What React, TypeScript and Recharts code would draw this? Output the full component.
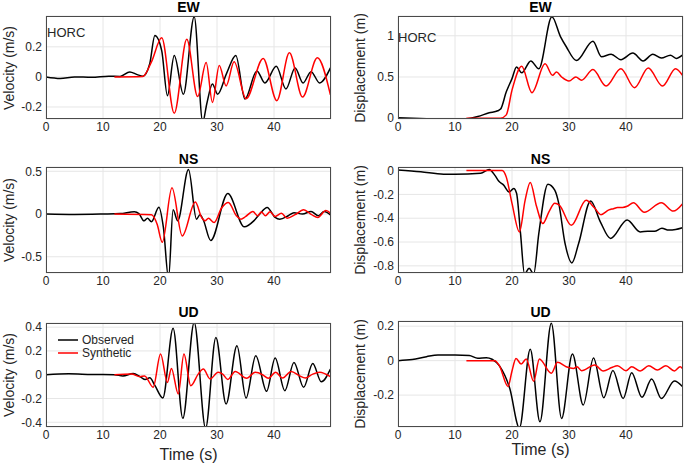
import React from "react";
import { LineChart, Line, XAxis, YAxis, CartesianGrid, Legend } from "recharts";

type Pt = [number, number];

const timeTicks = [0, 10, 20, 30, 40];

const ewVelTicks = [-0.2, 0, 0.2];
const ewDispTicks = [0, 0.5, 1];
const nsVelTicks = [-0.5, 0, 0.5];
const nsDispTicks = [-0.8, -0.6, -0.4, -0.2, 0];
const udVelTicks = [-0.4, -0.2, 0, 0.2, 0.4];
const udDispTicks = [-0.2, 0, 0.2];

// EW velocity (m/s)
const ewVelObs: Pt[] = [
  [0, 0], [2.5, -0.01], [5, 0], [8, -0.003], [11, 0.005], [13, 0.003], [14.7, 0.033], [16, 0.015],
  [17, 0.005], [18.2, 0.087], [19.1, 0.275], [20.3, 0.175], [21.3, -0.125], [22.5, 0.142], [24.1, -0.115],
  [26, 0.4], [27.5, -0.3], [28.2, -0.18], [29.2, -0.047], [30.1, -0.115], [31.7, 0.025], [33.3, 0.142],
  [34.9, -0.147], [37, 0.04], [38.4, -0.04], [40.4, 0.07], [42.1, -0.08], [43.7, 0.06], [45.1, -0.04],
  [46.5, 0.035], [48, -0.04], [49.9, 0.06],
];
const ewVelSyn: Pt[] = [
  [12, 0], [17, 0.003], [18.5, 0.1], [20.3, 0.26], [22.5, -0.242], [24.7, 0.25], [26.6, -0.13], [28.1, 0.095],
  [29.2, -0.17], [30.4, 0.076], [31.6, -0.06], [33, 0.1], [35.1, -0.145], [38.1, 0.123], [40.5, -0.158],
  [42.7, 0.16], [45, -0.134], [47.6, 0.127], [49.9, -0.12],
];

// EW displacement (m)
const ewDispObs: Pt[] = [
  [0, 0.005], [5, -0.008], [10, -0.02], [12, -0.01], [14, 0.02], [16, 0.065], [17.5, 0.09], [18, 0.11],
  [19, 0.32], [20, 0.48], [20.8, 0.62], [21.7, 0.55], [23.3, 0.695], [24.7, 0.6], [27, 1.23], [28.5, 0.99],
  [29.5, 0.87], [31.3, 0.7], [34.2, 0.935], [35.7, 0.745], [37.4, 0.775], [39.1, 0.71], [41.2, 0.79],
  [43, 0.695], [44.7, 0.775], [46.2, 0.73], [47.8, 0.765], [48.8, 0.725], [49.9, 0.765],
];
const ewDispSyn: Pt[] = [
  [12, 0], [18, 0], [19, 0.04], [20, 0.34], [21.7, 0.63], [23.5, 0.31], [25.8, 0.66], [27.1, 0.52],
  [27.8, 0.56], [28.7, 0.5], [30, 0.45], [31.2, 0.5], [32.2, 0.46], [34.2, 0.59], [36.5, 0.39], [39.1, 0.6],
  [41.5, 0.37], [43.9, 0.61], [46.4, 0.39], [48.7, 0.6], [49.9, 0.52],
];

// NS velocity (m/s)
const nsVelObs: Pt[] = [
  [0, 0], [5, -0.005], [10, 0], [13, 0.005], [15.5, 0.027], [16.3, 0.005], [17.2, -0.08], [17.8, -0.05],
  [18.5, -0.09], [19.8, 0.08], [20.6, -0.16], [21.5, -0.75], [22.3, 0.05], [23.1, -0.08], [25, 0.52],
  [26.4, -0.06], [27, -0.01], [27.6, -0.07], [28.9, -0.31], [31.9, 0.24], [34.8, -0.15], [36.5, -0.077],
  [37.5, 0], [38.8, 0.077], [40.2, -0.04], [41, -0.06], [42.5, -0.02], [43.5, 0.015], [45, 0], [46.5, 0.03],
  [47.8, -0.02], [48.8, 0.03], [49.9, -0.01],
];
const nsVelSyn: Pt[] = [
  [12, 0], [18.5, -0.01], [19.5, -0.12], [20.4, -0.33], [22.1, 0.306], [23.9, -0.256], [26.2, 0.14],
  [27.3, -0.04], [27.9, -0.08], [28.5, -0.05], [29.5, -0.1], [30.8, 0.07], [32, 0.135], [33.4, -0.02],
  [34.2, -0.06], [35, -0.03], [36.3, 0.03], [37.1, -0.02], [37.8, 0.025], [38.5, -0.02], [39.3, 0.027],
  [40.2, -0.03], [41.3, 0.008], [42.3, -0.05], [43.7, -0.008], [45.2, 0.05], [46.6, -0.008], [47.7, -0.04],
  [49.1, 0.04], [49.9, 0.01],
];

// NS displacement (m)
const nsDispObs: Pt[] = [
  [0, 0.005], [4, -0.01], [8, -0.03], [10, -0.03], [14.5, -0.022], [16, 0.01], [17, -0.04], [17.7, -0.09],
  [18.5, -0.12], [19.5, -0.18], [20.3, -0.15], [20.8, -0.19], [21.5, -0.53], [22.2, -0.87], [23, -0.82],
  [23.8, -0.87], [24.7, -0.53], [26.3, -0.115], [27.5, -0.165], [28.2, -0.275], [29.3, -0.61], [30.5, -0.775],
  [31.7, -0.61], [33.8, -0.255], [35.5, -0.43], [37.3, -0.57], [40.2, -0.415], [42.5, -0.515], [43.8, -0.51],
  [45, -0.51], [46.3, -0.485], [47.5, -0.5], [48.7, -0.495], [49.9, -0.48],
];
const nsDispSyn: Pt[] = [
  [12, 0], [18.3, 0], [19, -0.055], [20, -0.275], [21.3, -0.515], [22.3, -0.25], [23.2, -0.1], [24.3, -0.3],
  [25.4, -0.445], [26.5, -0.345], [27.5, -0.275], [28.3, -0.29], [30.4, -0.46], [33, -0.25], [34.5, -0.315],
  [35.6, -0.37], [37, -0.33], [37.8, -0.32], [38.5, -0.31], [39.4, -0.31], [40.2, -0.3], [41.3, -0.27],
  [43.2, -0.35], [46.2, -0.27], [48.3, -0.34], [49.9, -0.28],
];

// UD velocity (m/s)
const udVelObs: Pt[] = [
  [0, 0], [4, 0.008], [8, 0.002], [12, 0], [13.5, -0.01], [15.3, 0.01], [16.6, -0.02], [17.4, -0.04],
  [18.2, -0.025], [19.1, -0.09], [20.5, -0.196], [22.3, 0.39], [24, -0.367], [26, 0.44], [28, -0.45],
  [29.8, 0.313], [31.6, -0.246], [33.5, 0.244], [35.1, -0.196], [36.8, 0.16], [38.7, -0.14], [40.2, 0.14],
  [41.9, -0.134], [43.5, 0.103], [45.2, -0.106], [46.8, 0.095], [48.3, -0.06], [49.9, 0.048],
];
const udVelSyn: Pt[] = [
  [12, 0], [15, 0.005], [16.5, -0.017], [17.3, -0.01], [18.8, -0.105], [20.1, 0.174], [21.3, -0.065],
  [22, 0.053], [23.2, -0.162], [24.2, 0.174], [25.4, -0.092], [26.7, 0.005], [27.6, 0.048], [28.8, -0.036],
  [30.2, 0.02], [31, 0.005], [31.9, -0.04], [33.2, 0.027], [35.2, -0.03], [36.7, 0.02], [38, 0], [39, -0.03],
  [40.3, 0.02], [41.5, -0.028], [43, 0.028], [44.5, -0.01], [45.5, -0.028], [46.8, 0.005], [48, 0.02],
  [49.9, -0.017],
];

// UD displacement (m)
const udDispObs: Pt[] = [
  [0, 0], [2.5, 0.006], [5, 0.023], [7, 0.033], [10, 0.033], [12.5, 0.03], [14, 0.014], [15.5, 0.017],
  [16.5, 0.008], [17.8, -0.03], [19.6, -0.16], [21.3, -0.39], [23.2, 0.066], [24.9, -0.355], [26.9, 0.217],
  [28.7, -0.335], [30.6, 0.038], [32.5, -0.257], [34.3, 0.015], [36.1, -0.215], [37.7, -0.057], [39.5, -0.22],
  [41, -0.07], [42.8, -0.213], [44.5, -0.107], [46.2, -0.22], [48.5, -0.118], [49.9, -0.15],
];
const udDispSyn: Pt[] = [
  [12, 0], [17, 0], [17.8, -0.03], [19.3, -0.15], [20, -0.06], [20.7, 0.013], [21.6, -0.02], [22.5, 0.01],
  [23.8, -0.12], [24.8, 0.01], [26.9, -0.073], [28, -0.01], [29.5, -0.035], [30.8, -0.045], [31.4, -0.035],
  [32.2, -0.058], [34.5, -0.025], [36, -0.06], [37.5, -0.04], [38.5, -0.03], [40, -0.058], [41, -0.035],
  [42.5, -0.06], [44, -0.03], [45.5, -0.055], [47, -0.03], [48.5, -0.06], [49.5, -0.035], [49.9, -0.045],
];

const FONT = '"Liberation Sans", Arial, Helvetica, sans-serif';
const PLOT_W = 285;
const X_H = 22;
const M_TOP = 8;

const rows = (pts: Pt[]) => pts.map(([t, v]) => ({ t, v }));

type PanelProps = {
  col: 0 | 1;
  plotTop: number;
  plotH: number;
  title: string;
  titleY: number;
  yLabel: string;
  yDomain: [number, number];
  yTicks: number[];
  obs: Pt[];
  syn: Pt[];
  note?: { x: number; y: number };
  legend?: boolean;
  timeY?: number;
};

function LegendBox(props: any) {
  const items = props.payload || [];
  return (
    <div style={{ fontFamily: FONT, fontSize: 12, color: "#262626" }}>
      {items.map((it: any) => (
        <div key={it.value} style={{ display: "flex", alignItems: "center", height: 13 }}>
          <svg width={20} height={4} style={{ marginRight: 4 }}>
            <line x1={0} y1={2} x2={20} y2={2} stroke={it.color} strokeWidth={1.5} />
          </svg>
          <span>{it.value}</span>
        </div>
      ))}
    </div>
  );
}

function Panel(p: PanelProps) {
  const yW = p.col === 0 ? 46 : 58;
  const left = p.col === 0 ? 0 : 340;
  const plotLeft = left + yW;
  const top = p.plotTop - M_TOP;
  const cx = plotLeft + PLOT_W / 2;
  const cy = p.plotTop + p.plotH / 2;
  const labelX = p.col === 0 ? 9 : 360;
  return (
    <>
      <div style={{ position: "absolute", left, top }}>
        <LineChart
          width={yW + PLOT_W + 4}
          height={M_TOP + p.plotH + X_H}
          margin={{ top: M_TOP, right: 4, left: 0, bottom: 0 }}
        >
          <CartesianGrid stroke="#e6e6e6" />
          <XAxis
            dataKey="t"
            type="number"
            domain={[0, 50]}
            ticks={timeTicks}
            interval={0}
            allowDataOverflow
            axisLine={false}
            tickLine={false}
            tickSize={0}
            tickMargin={3}
            height={X_H}
            tick={{ fontSize: 12, fill: "#262626", fontFamily: FONT }}
          />
          <YAxis
            type="number"
            domain={p.yDomain}
            ticks={p.yTicks}
            interval={0}
            allowDataOverflow
            width={yW}
            axisLine={false}
            tickLine={false}
            tickSize={0}
            tickMargin={4}
            tick={{ fontSize: 12, fill: "#262626", fontFamily: FONT }}
          />
          <Line data={rows(p.obs)} dataKey="v" name="Observed" type="monotone" stroke="#000000"
            strokeWidth={1.5} dot={false} isAnimationActive={false} />
          <Line data={rows(p.syn)} dataKey="v" name="Synthetic" type="monotone" stroke="#ff0000"
            strokeWidth={1.5} dot={false} isAnimationActive={false} />
          {p.legend && (
            <Legend
              layout="vertical"
              align="center"
              verticalAlign="middle"
              content={LegendBox}
              wrapperStyle={{ left: 58, top: 18, width: "auto", height: "auto" }}
            />
          )}
        </LineChart>
      </div>
      <div
        style={{
          position: "absolute", left: plotLeft, top: p.plotTop, width: PLOT_W, height: p.plotH,
          border: "1px solid #4a4a4a", boxSizing: "border-box", pointerEvents: "none",
        }}
      />
      <div
        style={{
          position: "absolute", left: cx, top: p.titleY, transform: "translate(-50%, -50%)",
          fontWeight: "bold", fontSize: 14, lineHeight: "14px", color: "#000", whiteSpace: "nowrap",
        }}
      >
        {p.title}
      </div>
      <div
        style={{
          position: "absolute", left: labelX, top: cy, transform: "translate(-50%, -50%) rotate(-90deg)",
          fontSize: 14, lineHeight: "14px", color: "#262626", whiteSpace: "nowrap",
        }}
      >
        {p.yLabel}
      </div>
      {p.note && (
        <div style={{ position: "absolute", left: p.note.x, top: p.note.y, transform: "translateY(-50%)",
          fontSize: 13, lineHeight: "13px", color: "#262626" }}>
          HORC
        </div>
      )}
      {p.timeY !== undefined && (
        <div
          style={{
            position: "absolute", left: cx, top: p.timeY, transform: "translate(-50%, -50%)",
            fontSize: 16, lineHeight: "14px", color: "#262626", whiteSpace: "nowrap",
          }}
        >
          Time (s)
        </div>
      )}
    </>
  );
}

export default function App() {
  return (
    <div style={{ position: "absolute", left: 0, top: 0, width: 685, height: 465, background: "#fff", fontFamily: FONT }}>
      <Panel col={0} plotTop={16} plotH={103} title="EW" titleY={7} yLabel="Velocity (m/s)"
        yDomain={[-0.28, 0.405]} yTicks={ewVelTicks} obs={ewVelObs} syn={ewVelSyn} note={{ x: 47, y: 32 }} />
      <Panel col={1} plotTop={16} plotH={103} title="EW" titleY={7} yLabel="Displacement (m)"
        yDomain={[-0.01, 1.24]} yTicks={ewDispTicks} obs={ewDispObs} syn={ewDispSyn} note={{ x: 398, y: 37 }} />
      <Panel col={0} plotTop={167} plotH={106} title="NS" titleY={159} yLabel="Velocity (m/s)"
        yDomain={[-0.69, 0.55]} yTicks={nsVelTicks} obs={nsVelObs} syn={nsVelSyn} />
      <Panel col={1} plotTop={167} plotH={106} title="NS" titleY={159} yLabel="Displacement (m)"
        yDomain={[-0.86, 0.03]} yTicks={nsDispTicks} obs={nsDispObs} syn={nsDispSyn} />
      <Panel col={0} plotTop={323} plotH={104} title="UD" titleY={312} yLabel="Velocity (m/s)"
        yDomain={[-0.44, 0.435]} yTicks={udVelTicks} obs={udVelObs} syn={udVelSyn} legend timeY={455} />
      <Panel col={1} plotTop={321} plotH={106} title="UD" titleY={312} yLabel="Displacement (m)"
        yDomain={[-0.385, 0.23]} yTicks={udDispTicks} obs={udDispObs} syn={udDispSyn} timeY={450} />
    </div>
  );
}
